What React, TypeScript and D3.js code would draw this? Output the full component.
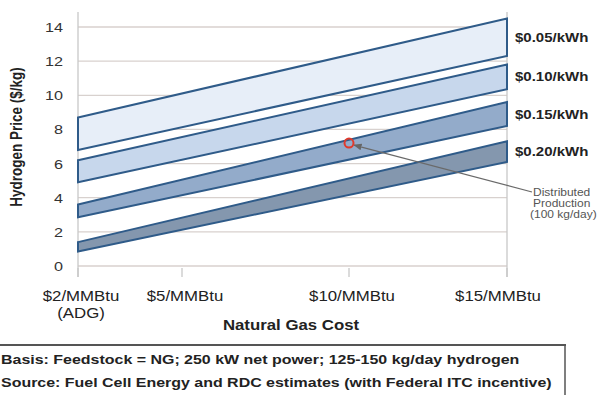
import React from "react";
import * as d3 from "d3";

const gasCostTicks = [2, 5, 10, 15];
const gasCostLabels = [["$2/MMBtu", "(ADG)"], ["$5/MMBtu"], ["$10/MMBtu"], ["$15/MMBtu"]];
const gasCostEnds = [2, 15];
const rateLabels = ["$0.05/kWh", "$0.10/kWh", "$0.15/kWh", "$0.20/kWh"];
const upperAtLow = [8.7, 6.2, 3.6, 1.4];
const lowerAtLow = [6.8, 4.9, 2.85, 0.85];
const upperAtHigh = [14.5, 11.8, 9.6, 7.3];
const lowerAtHigh = [12.3, 10.35, 8.2, 6.1];
const yTicks = [0, 2, 4, 6, 8, 10, 12, 14];
const distributedPoint = { cost: 10, price: 7.2 };
const distributedLabel = ["Distributed", "Production", "(100 kg/day)"];
const footnotes = [
  "Basis: Feedstock = NG; 250 kW net power; 125-150 kg/day hydrogen",
  "Source: Fuel Cell Energy and RDC estimates (with Federal ITC incentive)",
];

const fills = ["#e7eef8", "#c7d7ec", "#93abca", "#8497ae"];
const SX = 1.2;
const FONT = "'Liberation Sans', Arial, sans-serif";

function T({ x, y, children, size, weight = "normal", anchor = "start", fill = "#262626", rotate = 0 }: any) {
  return (
    <text
      transform={`translate(${x},${y}) rotate(${rotate}) scale(${rotate ? 1 : SX},${rotate ? SX : 1})`}
      fontSize={size}
      fontWeight={weight}
      textAnchor={anchor}
      fill={fill}
      fontFamily={FONT}
    >
      {children}
    </text>
  );
}

export default function App() {
  const x = d3.scaleLinear().domain(gasCostTicks).range([78, 182, 349, 507]);
  const y = d3.scaleLinear().domain([0, 14]).range([266, 27]);
  const [x0, x1] = gasCostEnds.map((v) => x(v));

  const bands = rateLabels.map((lab, i) => {
    const pts: [number, number][] = [
      [x0, y(upperAtLow[i])],
      [x1, y(upperAtHigh[i])],
      [x1, y(lowerAtHigh[i])],
      [x0, y(lowerAtLow[i])],
    ];
    return { lab, i, path: d3.line()(pts) + "Z", labelY: y((upperAtHigh[i] + lowerAtHigh[i]) / 2) };
  });

  const px = x(distributedPoint.cost);
  const py = y(distributedPoint.price);

  return (
    <svg width={600} height={395} style={{ position: "absolute", left: 0, top: 0, background: "#fff" }}>
      <defs>
        <marker id="arr" viewBox="0 0 10 10" refX="9" refY="5" markerWidth="7" markerHeight="7" orient="auto-start-reverse">
          <path d="M0,1 L10,5 L0,9 Z" fill="#666" />
        </marker>
      </defs>
      {yTicks.map((t) => (
        <line key={t} x1={x0} x2={x1} y1={y(t)} y2={y(t)} stroke="#d8d1ce" strokeWidth={1.3} />
      ))}
      <line x1={x0} x2={x0} y1={12} y2={277} stroke="#c8c8c8" strokeWidth={1.3} />
      <line x1={x1} x2={x1} y1={12} y2={277} stroke="#c8c8c8" strokeWidth={1.3} />
      {gasCostTicks.map((t) => (
        <line key={t} x1={x(t)} x2={x(t)} y1={268} y2={277} stroke="#c8c8c8" strokeWidth={1.3} />
      ))}
      {yTicks.map((t) => (
        <T key={t} x={63} y={y(t) + 5} size={13.5} anchor="end" fill="#333">
          {t}
        </T>
      ))}
      {bands.map((b) => (
        <path key={b.lab} d={b.path} fill={fills[b.i]} stroke="#2f5b89" strokeWidth={2} strokeLinejoin="miter" />
      ))}
      {bands.map((b) => (
        <T key={b.lab} x={x1 + 8} y={b.labelY + 4.5} size={12.5} weight="bold" fill="#222">
          {b.lab}
        </T>
      ))}
      <line x1={px + 5} y1={py + 2} x2={532} y2={192} stroke="#6a6a6a" strokeWidth={1.2} markerStart="url(#arr)" />
      <circle cx={px} cy={py} r={4.5} fill="none" stroke="#e0392b" strokeWidth={2} />
      {distributedLabel.map((s, i) => (
        <T key={s} x={i === 2 ? 530 : 533} y={196 + i * 11} size={10} fill="#555">
          {s}
        </T>
      ))}
      {gasCostLabels.map((lines, i) =>
        lines.map((s, j) => (
          <T key={s} x={Math.min(x(gasCostTicks[i]) + 3, 498)} y={301 + j * 17} size={14} anchor="middle" fill="#222">
            {s}
          </T>
        ))
      )}
      <T x={291} y={330} size={14} weight="bold" anchor="middle" fill="#222">
        Natural Gas Cost
      </T>
      <T x={22} y={137} size={13.5} weight="bold" anchor="middle" fill="#222" rotate={-90}>
        Hydrogen Price ($/kg)
      </T>
      <line x1={0} x2={566} y1={345} y2={345} stroke="#555" strokeWidth={2} />
      <line x1={565} x2={565} y1={345} y2={395} stroke="#555" strokeWidth={1.5} />
      {footnotes.map((s, i) => (
        <T key={s} x={1} y={364 + i * 23} size={13.3} weight="bold" fill="#222">
          {s}
        </T>
      ))}
    </svg>
  );
}
